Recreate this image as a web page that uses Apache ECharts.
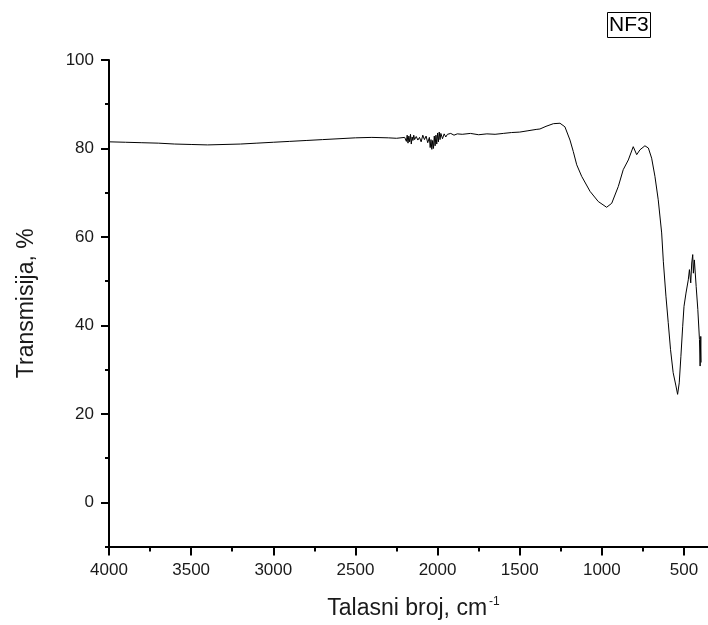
<!DOCTYPE html>
<html><head><meta charset="utf-8">
<script src="https://cdn.jsdelivr.net/npm/echarts@6/dist/echarts.min.js"></script>
<style>html,body{margin:0;padding:0;background:#fff}#c{width:708px;height:625px}</style>
</head><body><div id="c"></div>
<script>
// Wavenumber (cm^-1) and transmission (%)
const wavenumber = [4000,3900,3800,3700,3600,3500,3400,3300,3200,3100,3000,2900,2800,2700,2600,2500,2400,2300,2250,
 2200,2190,2185,2180,2175,2170,2165,2160,2155,2150,2145,2140,2130,2120,2110,2100,2090,2080,2070,2060,2050,2045,2040,2035,2030,2025,2020,2015,2010,2005,2000,1995,1990,1985,1980,1970,1960,1950,1940,1930,1920,1900,1880,1850,
 1800,1750,1700,1650,1600,1550,1500,1450,1400,1377,1340,1295,1255,1225,1194,1174,1153,1123,1072,1022,971,940,900,870,839,809,788,768,738,717,697,677,657,636,626,610,596,582,566,549,539,529,519,508,500,488,474,467,459,453,447,443,437,426,416,406,402,398,396];
const transmission = [81.5,81.4,81.3,81.2,81.0,80.9,80.8,80.9,81.0,81.2,81.4,81.6,81.8,82.0,82.2,82.4,82.5,82.4,82.3,
 82.5,81.6,83.0,81.2,82.8,81.5,83.2,81.0,82.6,81.8,83.0,82.0,82.7,81.9,82.5,81.5,83.0,82.0,82.8,81.3,82.5,80.2,82.0,79.8,81.8,80.0,82.8,80.6,83.0,81.0,83.5,81.5,83.7,82.0,83.4,82.2,83.3,82.6,83.2,82.8,83.4,83.0,83.3,83.2,
 83.4,83.1,83.3,83.2,83.4,83.6,83.7,84.0,84.3,84.4,85.0,85.6,85.7,84.9,81.9,79.3,76.3,73.7,70.3,68.0,66.7,67.6,71.4,75.2,77.4,80.4,78.6,79.7,80.6,80.1,77.8,73.7,68.4,60.9,54.5,46.6,40.6,34.5,29.3,26.3,24.4,27.0,33.0,39.8,44.3,47.3,50.3,52.6,49.6,54.1,56.0,51.8,54.8,48.8,43.6,36.8,30.8,37.5,31.6];
const xMajorTicks = [4000,3500,3000,2500,2000,1500,1000,500];
const xMinorTicks = [3750,3250,2750,2250,1750,1250,750];
const yMajorTicks = [0,20,40,60,80,100];
const yMinorTicks = [-10,10,30,50,70,90];
const seriesName = 'NF3';

const data = wavenumber.map((w,i)=>[w, transmission[i]]);
const font = '"Liberation Sans", Arial, sans-serif';
const txt = '#1a1a1a';
const plain = v => String(v);
const chart = echarts.init(document.getElementById('c'), null, {renderer:'canvas'});
const xBase = {type:'value', min:354, max:4000, inverse:true, position:'bottom', offset:0, gridIndex:0,
  splitLine:{show:false}};
const yBase = {type:'value', min:-10, max:100, position:'left', offset:0, gridIndex:0, splitLine:{show:false}};
chart.setOption({
  animation:false,
  backgroundColor:'#fff',
  title:{text:seriesName, left:607, top:12, borderColor:'#000', borderWidth:1, padding:[2,2,2,2],
    textStyle:{fontFamily:font, fontSize:21, fontWeight:'normal', color:'#000', lineHeight:22}},
  grid:{left:109, right:0, top:60, bottom:77, containLabel:false},
  xAxis:[
    Object.assign({}, xBase, {
      name:'Talasni broj, cm{sup|-1}', nameLocation:'middle', nameGap:49,
      nameTextStyle:{fontFamily:font, fontSize:23, color:txt, padding:[0,0,0,10],
        rich:{sup:{fontFamily:font, fontSize:12, color:txt, verticalAlign:'top', padding:[0,0,14,2]}}},
      axisLine:{show:true, onZero:false, lineStyle:{color:'#000', width:2}},
      axisTick:{show:true, inside:false, length:9, lineStyle:{color:'#000', width:2}, customValues:xMajorTicks},
      axisLabel:{show:true, margin:15, fontFamily:font, fontSize:17, color:txt, customValues:xMajorTicks, formatter:plain}
    }),
    Object.assign({}, xBase, {
      axisLine:{show:false, onZero:false},
      axisTick:{show:true, inside:false, length:5, lineStyle:{color:'#000', width:2}, customValues:xMinorTicks},
      axisLabel:{show:false}
    })
  ],
  yAxis:[
    Object.assign({}, yBase, {
      name:'Transmisija, %', nameLocation:'middle', nameGap:71, nameRotate:90,
      nameTextStyle:{fontFamily:font, fontSize:23, color:txt},
      axisLine:{show:true, onZero:false, lineStyle:{color:'#000', width:2}},
      axisTick:{show:true, inside:false, length:8, lineStyle:{color:'#000', width:2}, customValues:yMajorTicks},
      axisLabel:{show:true, margin:15, fontFamily:font, fontSize:17, color:txt, customValues:yMajorTicks, formatter:plain}
    }),
    Object.assign({}, yBase, {
      axisLine:{show:false, onZero:false},
      axisTick:{show:true, inside:false, length:4, lineStyle:{color:'#000', width:2}, customValues:yMinorTicks},
      axisLabel:{show:false}
    })
  ],
  series:[{name:seriesName, type:'line', xAxisIndex:0, yAxisIndex:0, data:data, showSymbol:false, symbol:'none',
    lineStyle:{color:'#000', width:1}, smooth:false}]
});
</script></body></html>
